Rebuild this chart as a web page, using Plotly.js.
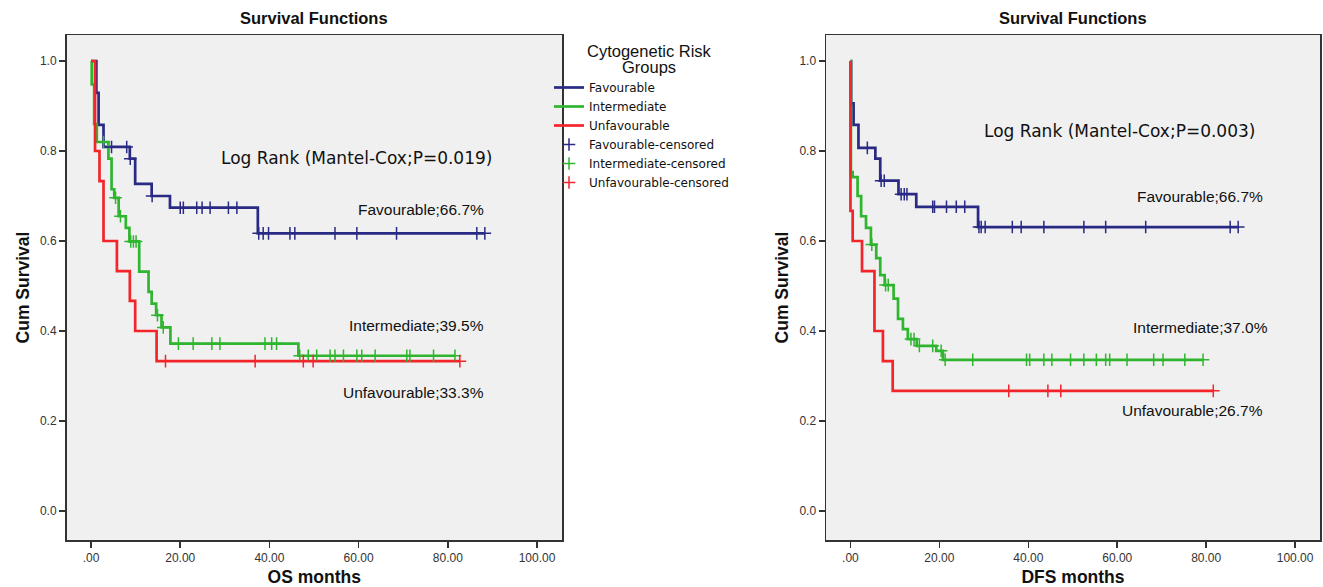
<!DOCTYPE html>
<html>
<head>
<meta charset="utf-8">
<script src="https://cdn.plot.ly/plotly-3.0.1.min.js"></script>
<style>html,body{margin:0;padding:0;background:#fff;}#chart{width:1323px;height:587px;}</style>
</head>
<body>
<div id="chart"></div>
<script>
// ---------- DATA ----------
const groupNames = ["Favourable", "Intermediate", "Unfavourable"];
const censoredNames = ["Favourable-censored", "Intermediate-censored", "Unfavourable-censored"];
const legendTitleLines = ["Cytogenetic Risk", "Groups"];

// OS (left panel): event times, survival after each event, censored times
const osFavTimes = [1.2, 1.7, 2.8, 8.7, 9.9, 13.6, 17.7, 37.4];
const osFavSurv  = [0.929, 0.858, 0.809, 0.783, 0.727, 0.700, 0.674, 0.617];
const osFavCens  = [4.6, 8.0, 8.8, 13.7, 20.0, 20.7, 23.7, 24.9, 26.7, 30.8, 32.7, 37.6, 38.6, 39.8, 44.6, 45.7, 54.7, 59.6, 68.5, 86.5, 88.3];

const osIntTimes = [0.15, 0.7, 1.3, 3.9, 4.6, 5.2, 6.2, 7.8, 8.6, 10.8, 12.9, 13.6, 14.6, 15.8, 17.8, 46.5];
const osIntSurv  = [0.948, 0.86, 0.82, 0.783, 0.715, 0.696, 0.655, 0.629, 0.599, 0.532, 0.487, 0.461, 0.435, 0.408, 0.372, 0.345];
const osIntCens  = [2.8, 5.5, 6.6, 8.9, 9.5, 10.1, 14.9, 16.2, 19.6, 22.9, 27.1, 28.9, 39.0, 40.5, 41.6, 46.8, 48.7, 50.6, 53.6, 54.7, 56.6, 59.6, 60.7, 63.7, 70.8, 71.5, 76.8, 81.6];

const osUnfTimes = [0.9, 1.9, 2.8, 5.8, 8.7, 9.9, 14.7];
const osUnfSurv  = [0.800, 0.733, 0.600, 0.533, 0.467, 0.400, 0.333];
const osUnfCens  = [16.7, 36.8, 47.6, 49.8, 82.7];

// DFS (right panel)
const dfsFavTimes = [0.15, 0.7, 1.8, 5.6, 6.7, 10.8, 14.8, 28.7];
const dfsFavSurv  = [0.906, 0.858, 0.807, 0.783, 0.734, 0.704, 0.676, 0.631];
const dfsFavCens  = [3.8, 6.9, 7.6, 11.4, 12.1, 12.7, 18.5, 18.9, 21.6, 23.8, 25.7, 28.9, 29.4, 30.3, 36.4, 38.4, 43.5, 52.5, 57.4, 66.4, 85.4, 87.2];

const dfsIntTimes = [0.1, 0.5, 1.6, 2.4, 3.5, 4.6, 5.8, 6.7, 7.7, 9.7, 10.7, 11.8, 12.9, 14.9, 19.3, 20.8];
const dfsIntSurv  = [0.753, 0.742, 0.700, 0.655, 0.629, 0.592, 0.562, 0.524, 0.502, 0.472, 0.427, 0.404, 0.382, 0.367, 0.356, 0.336];
const dfsIntCens  = [4.8, 7.9, 8.5, 13.6, 14.3, 15.5, 18.5, 20.4, 21.3, 27.5, 39.6, 40.3, 43.5, 45.3, 49.5, 52.5, 55.3, 57.4, 58.3, 62.2, 68.2, 70.3, 75.2, 79.3];

const dfsUnfTimes = [0, 0.5, 2.6, 5.4, 7.3, 9.5];
const dfsUnfSurv  = [0.667, 0.600, 0.533, 0.400, 0.333, 0.267];
const dfsUnfCens  = [35.6, 44.4, 47.3, 81.6];

const xTickVals  = [0, 20, 40, 60, 80, 100];
const xTickText  = [".00", "20.00", "40.00", "60.00", "80.00", "100.00"];
const yTickVals  = [0, 0.2, 0.4, 0.6, 0.8, 1.0];

const osLabels  = ["Favourable;66.7%", "Intermediate;39.5%", "Unfavourable;33.3%"];
const dfsLabels = ["Favourable;66.7%", "Intermediate;37.0%", "Unfavourable;26.7%"];
const osLogRank  = "Log Rank (Mantel-Cox;P=0.019)";
const dfsLogRank = "Log Rank (Mantel-Cox;P=0.003)";

// ---------- STYLE ----------
const colors = ["#282a84", "#2fb52f", "#f2252b"];
const FONT = "Liberation Sans, Arial, sans-serif";
const WIDE = "DejaVu Sans, Verdana, sans-serif";

function stepSeries(times, surv, cens) {
  const x = [0], y = [1];
  times.forEach((t, i) => { x.push(t); y.push(surv[i]); });
  const last = Math.max(...cens, times[times.length - 1]);
  x.push(last); y.push(surv[surv.length - 1]);
  const cy = cens.map(c => { let s = 1; times.forEach((t, i) => { if (t <= c) s = surv[i]; }); return s; });
  return { x, y, cx: cens, cy };
}

const os = [stepSeries(osFavTimes, osFavSurv, osFavCens), stepSeries(osIntTimes, osIntSurv, osIntCens), stepSeries(osUnfTimes, osUnfSurv, osUnfCens)];
const dfs = [stepSeries(dfsFavTimes, dfsFavSurv, dfsFavCens), stepSeries(dfsIntTimes, dfsIntSurv, dfsIntCens), stepSeries(dfsUnfTimes, dfsUnfSurv, dfsUnfCens)];

const traces = [];
function addPanel(series, xa, ya, show) {
  series.forEach((s, i) => {
    traces.push({ type: "scatter", mode: "lines", x: s.x, y: s.y, xaxis: xa, yaxis: ya,
      line: { shape: "hv", color: colors[i], width: 2.7 }, name: groupNames[i], showlegend: show, hoverinfo: "skip" });
  });
  series.forEach((s, i) => {
    traces.push({ type: "scatter", mode: "markers", x: s.cx, y: s.cy, xaxis: xa, yaxis: ya,
      marker: { symbol: "cross-thin", size: 9, line: { color: colors[i], width: 1.5 }, color: colors[i] },
      name: censoredNames[i], showlegend: show, hoverinfo: "skip" });
  });
}
addPanel(os, "x", "y", true);
addPanel(dfs, "x2", "y2", false);

const W = 1323, H = 587, MT = 35, MB = 47;
const PH = H - MT - MB;
const xRange = [-5.5, 105.6];
const yRange = [-0.0644, 1.0578];
function xAxis(domain, title, anchor) {
  return { domain, range: xRange, anchor, tickvals: xTickVals, ticktext: xTickText,
    showgrid: false, zeroline: false, showline: true, mirror: true, linecolor: "#333", linewidth: 1.5,
    ticks: "outside", ticklen: 6, tickwidth: 1.5, tickcolor: "#333",
    tickfont: { family: FONT, size: 12, color: "#333" },
    title: { text: "<b>" + title + "</b>", font: { family: FONT, size: 17.5, color: "#111" }, standoff: 8 } };
}
function yAxis(domain, anchor) {
  return { domain, range: yRange, anchor, tickvals: yTickVals, tickformat: ".1f",
    showgrid: false, zeroline: false, showline: true, mirror: true, linecolor: "#333", linewidth: 1.5,
    ticks: "outside", ticklen: 6, tickwidth: 1.5, tickcolor: "#333",
    tickfont: { family: FONT, size: 12, color: "#333" },
    title: { text: "<b>Cum Survival</b>", font: { family: FONT, size: 17.5, color: "#111" }, standoff: 6 } };
}

function ann(text, x, y, xref, yref, xanchor, size, family, bold) {
  return { text: bold ? "<b>" + text + "</b>" : text, x, y, xref, yref, xanchor, yanchor: "middle",
    showarrow: false, align: "center", font: { family, size, color: "#111" } };
}
function py(pix) { return (H - MB - pix) / PH; }   // pixel row -> paper y

const annotations = [
  ann("Survival Functions", 0.5, py(18), "x domain", "paper", "center", 16.5, FONT, true),
  ann("Survival Functions", 0.5, py(18), "x2 domain", "paper", "center", 16.5, FONT, true),
  ann(legendTitleLines[0], 649 / W, py(51), "paper", "paper", "center", 16.5, FONT, false),
  ann(legendTitleLines[1], 649 / W, py(67), "paper", "paper", "center", 16.5, FONT, false),
  ann(osLogRank, 59.6, 0.784, "x", "y", "center", 17, WIDE, false),
  ann(osLabels[0], 88.5, 0.669, "x", "y", "right", 15.5, FONT, false),
  ann(osLabels[1], 88.6, 0.413, "x", "y", "right", 15.5, FONT, false),
  ann(osLabels[2], 88.6, 0.264, "x", "y", "right", 15.5, FONT, false),
  ann(dfsLogRank, 60.4, 0.844, "x2", "y2", "center", 17, WIDE, false),
  ann(dfsLabels[0], 93.2, 0.700, "x2", "y2", "right", 15.5, FONT, false),
  ann(dfsLabels[1], 94.4, 0.407, "x2", "y2", "right", 15.5, FONT, false),
  ann(dfsLabels[2], 93.2, 0.224, "x2", "y2", "right", 15.5, FONT, false)
];

const layout = {
  width: W, height: H,
  margin: { l: 0, r: 0, t: MT, b: MB },
  paper_bgcolor: "#ffffff", plot_bgcolor: "#f0f0f0",
  font: { family: FONT, color: "#111" },
  xaxis: xAxis([66.5 / W, 562 / W], "OS months", "y"),
  yaxis: yAxis([0, 1], "x"),
  xaxis2: xAxis([826 / W, 1320 / W], "DFS months", "y2"),
  yaxis2: yAxis([0, 1], "x2"),
  showlegend: true,
  legend: { x: 549 / W, xanchor: "left", y: py(73), yanchor: "top", bgcolor: "rgba(0,0,0,0)",
    font: { family: WIDE, size: 12, color: "#111" }, itemwidth: 30, tracegroupgap: 0 },
  annotations
};

Plotly.newPlot("chart", traces, layout, { displayModeBar: false, staticPlot: true });
</script>
</body>
</html>
